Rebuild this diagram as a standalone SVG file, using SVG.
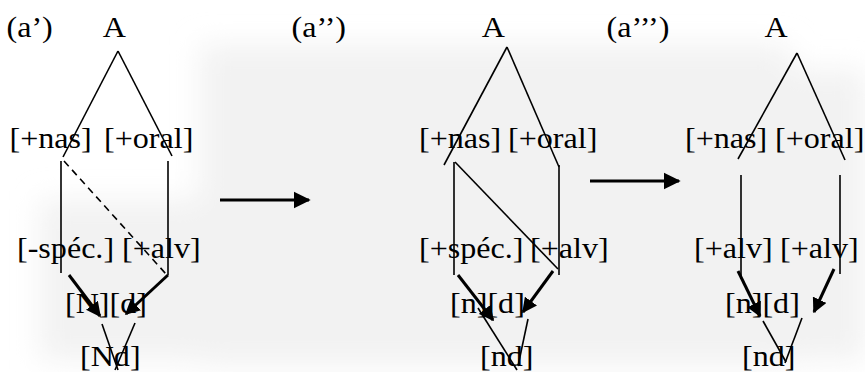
<svg xmlns="http://www.w3.org/2000/svg" width="865" height="372" viewBox="0 0 865 372">
<style>
text{font-family:'Liberation Serif','Times New Roman',Times,serif;font-size:30px;fill:#000}
.ln{stroke:#000;stroke-width:1.6;fill:none}
.dash{stroke:#000;stroke-width:1.6;fill:none;stroke-dasharray:7 5}
.ar{stroke:#000;stroke-width:3;fill:none;marker-end:url(#ah)}
.big{stroke:#000;stroke-width:3;fill:none;marker-end:url(#ahb)}
</style>
<defs>
<marker id="ah" viewBox="0 0 10 10" refX="9" refY="5" markerWidth="15" markerHeight="15" markerUnits="userSpaceOnUse" orient="auto"><path d="M0,0L10,5L0,10z" fill="#000"/></marker>
<marker id="ahb" viewBox="0 0 10 10" refX="9" refY="5" markerWidth="17" markerHeight="18" markerUnits="userSpaceOnUse" orient="auto"><path d="M0,0L10,5L0,10z" fill="#000"/></marker>
<filter id="bl" x="-20%" y="-20%" width="140%" height="140%"><feGaussianBlur stdDeviation="14"/></filter>
</defs>
<rect width="865" height="372" fill="#fff"/>
<g filter="url(#bl)" fill="#f2f2f2">
<rect x="200" y="45" width="590" height="320"/>
<rect x="40" y="200" width="200" height="160"/>
<rect x="790" y="70" width="75" height="290"/>
</g>
<g id="connectors">
<line class="ln" x1="118" y1="51" x2="63" y2="157"/>
<line class="ln" x1="118" y1="51" x2="172" y2="156"/>
<line class="ln" x1="61" y1="161" x2="61" y2="273"/>
<line class="ln" x1="168" y1="161" x2="168" y2="275"/>
<line class="dash" x1="64" y1="161" x2="166" y2="274"/>
<line class="ar" x1="69" y1="275" x2="100" y2="316"/>
<line class="ar" x1="168" y1="275" x2="126" y2="314"/>
<line class="ln" x1="102" y1="324" x2="118" y2="370"/>
<line class="ln" x1="135" y1="323" x2="115" y2="370"/>
<line class="big" x1="220" y1="200" x2="309" y2="200"/>
<line class="ln" x1="507" y1="47" x2="444" y2="165"/>
<line class="ln" x1="507" y1="47" x2="559" y2="167"/>
<line class="ln" x1="454" y1="162" x2="454" y2="275"/>
<line class="ln" x1="559" y1="165" x2="559" y2="275"/>
<line class="ln" x1="455" y1="162" x2="558" y2="269"/>
<line class="ar" x1="458" y1="275" x2="493" y2="320"/>
<line class="ar" x1="553" y1="271" x2="523" y2="312"/>
<line class="ln" x1="478" y1="308" x2="517" y2="370"/>
<line class="ln" x1="528" y1="319" x2="518" y2="366"/>
<line class="big" x1="590" y1="181" x2="679" y2="181"/>
<line class="ln" x1="797" y1="53" x2="738" y2="159"/>
<line class="ln" x1="797" y1="53" x2="845" y2="160"/>
<line class="ln" x1="741" y1="175" x2="741" y2="279"/>
<line class="ln" x1="840" y1="175" x2="840" y2="274"/>
<line class="ar" x1="738" y1="271" x2="760" y2="316"/>
<line class="ar" x1="834" y1="269" x2="814" y2="312"/>
<line class="ln" x1="763" y1="321" x2="786" y2="362"/>
<line class="ln" x1="802" y1="318" x2="785" y2="363"/>
</g>
<g id="labels" transform="scale(1.07,1)">
<g id="p1-label"><text x="6.1" y="37.5">(a’)</text></g>
<g id="p1-A"><text x="96" y="37.5">A</text></g>
<g id="p1-nas"><text x="8.9" y="148">[+nas]</text></g>
<g id="p1-oral"><text x="97.2" y="148">[+oral]</text></g>
<g id="p1-spec"><text x="15.9" y="258">[-spéc.]</text></g>
<g id="p1-alv"><text x="114" y="258">[+alv]</text></g>
<g id="p1-Nd-seg"><text x="60.7" y="313">[N][d]</text></g>
<g id="p1-Nd"><text x="74.8" y="366">[Nd]</text></g>
<g id="p2-label"><text x="272.4" y="37.5">(a’’)</text></g>
<g id="p2-A"><text x="450.2" y="37.5">A</text></g>
<g id="p2-nas"><text x="391.6" y="148">[+nas]</text></g>
<g id="p2-oral"><text x="474.8" y="148">[+oral]</text></g>
<g id="p2-spec"><text x="391.6" y="258">[+spéc.]</text></g>
<g id="p2-alv"><text x="495.3" y="258">[+alv]</text></g>
<g id="p2-nd-seg"><text x="420.6" y="313">[n][d]</text></g>
<g id="p2-nd"><text x="448.6" y="366">[nd]</text></g>
<g id="p3-label"><text x="566.8" y="37.5">(a’’’)</text></g>
<g id="p3-A"><text x="714.5" y="37.5">A</text></g>
<g id="p3-nas"><text x="640.2" y="148">[+nas]</text></g>
<g id="p3-oral"><text x="724.3" y="148">[+oral]</text></g>
<g id="p3-alv1"><text x="648.6" y="258">[+alv]</text></g>
<g id="p3-alv2"><text x="729" y="258">[+alv]</text></g>
<g id="p3-nd-seg"><text x="677.6" y="313">[n][d]</text></g>
<g id="p3-nd"><text x="693.5" y="366">[nd]</text></g>
</g>
</svg>
